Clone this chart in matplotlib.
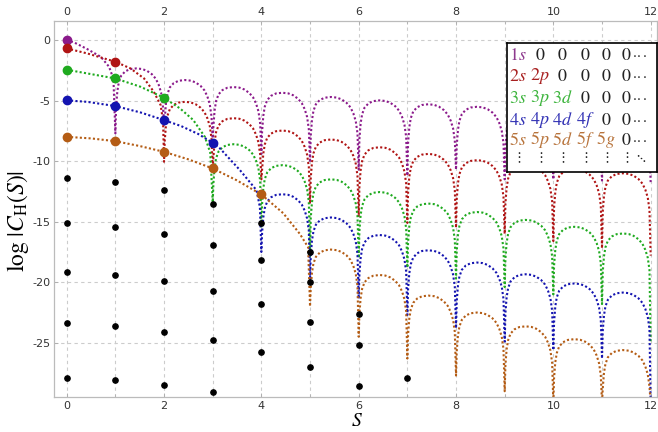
import numpy as np
import matplotlib.pyplot as plt

plt.rcParams['mathtext.fontset'] = 'stix'
plt.rcParams['axes.unicode_minus'] = False

line_colors = ['#8b1a8b', '#b01414', '#1faa1f', '#1414b0', '#b45c14']
label_colors = ['#8e3a8e', '#a82020', '#3cb43c', '#3232b4', '#b8743c']

# big dots: value at S = 0, 1, ... for each series
dots_1s = [0.0]
dots_2s = [-0.69, -1.79]
dots_3s = [-2.45, -3.17, -4.77]
dots_4s = [-4.98, -5.45, -6.61, -8.48]
dots_5s = [-7.99, -8.35, -9.23, -10.6, -12.75]

# start of every curve, before its first zero
lead_s_1s = [0, 0.15, 0.42, 0.7, 0.87, 0.96]
lead_y_1s = [0, -0.19, -0.74, -1.38, -2.2, -3.2]
lead_s_2s = [0, 0.42, 1, 1.31, 1.59, 1.79, 1.93, 1.98]
lead_y_2s = [-0.69, -1.1, -1.79, -2.34, -3.17, -4.27, -5.37, -6.7]
lead_s_3s = [0, 0.42, 1, 1.52, 2, 2.33, 2.6, 2.84, 2.95]
lead_y_3s = [-2.45, -2.75, -3.17, -3.86, -4.77, -5.65, -6.6, -8.0, -9.3]
lead_s_4s = [0, 0.42, 1, 1.52, 2, 2.35, 2.7, 3, 3.15, 3.56, 3.9, 3.97]
lead_y_4s = [-4.98, -5.1, -5.45, -5.98, -6.61, -7.1, -7.75, -8.48, -8.95, -10.74, -12.4, -13.8]
lead_s_5s = [0, 0.5, 1, 1.5, 2, 2.5, 3, 3.49, 4, 4.45, 4.79, 4.96]
lead_y_5s = [-7.99, -8.12, -8.35, -8.75, -9.23, -9.85, -10.6, -11.57, -12.75, -14.3, -16.0, -17.1]

# depth of the dips at the zeros (first zero ... S=12)
dips_1s = [-7.7, -7.0, -8.3, -9.4, -10.1, -10.7, -11.2, -10.7, -11.5, -11.5, -11.6, -11.8]
dips_2s = [-10.05, -10.6, -11.5, -13.5, -14.6, -15.1, -15.5, -16.0, -16.6, -17.2, -17.8]
dips_3s = [-13.4, -15.5, -17.9, -18.0, -18.8, -19.7, -20.4, -21.0, -21.8, -25.0]
dips_4s = [-17.5, -19.8, -21.35, -22.7, -23.8, -24.9, -25.6, -26.3, -30]
dips_5s = [-22.0, -24.5, -26.3, -27.7, -29.0, -30, -30, -30]

# tops of the arches between consecutive zeros
peaks_1s = [-2.34, -3.3, -3.88, -4.35, -4.7, -4.98, -5.3, -5.51, -5.75, -5.95, -6.15]
peaks_2s = [-5.1, -6.45, -7.47, -8.21, -8.85, -9.4, -9.92, -10.3, -10.65, -11.0]
peaks_3s = [-8.6, -10.33, -11.5, -12.55, -13.5, -14.2, -14.85, -15.42, -15.97]
peaks_4s = [-12.73, -14.65, -16.1, -17.36, -18.37, -19.34, -20.1, -20.85]
peaks_5s = [-17.3, -19.4, -21.1, -22.5, -23.64, -24.7, -25.6]

# arch shape: fraction between zeros, drop below arch top
arch_frac = [0.015, 0.04, 0.07, 0.12, 0.2, 0.3, 0.43, 0.55, 0.65, 0.75, 0.83, 0.89, 0.94, 0.975]
arch_drop = [3.2, 1.9, 1.15, 0.6, 0.25, 0.06, 0.0, 0.05, 0.2, 0.48, 0.85, 1.35, 2.0, 3.0]

black_s = [0, 0, 0, 0, 0, 1, 1, 1, 1, 1, 2, 2, 2, 2, 2, 3, 3, 3, 3, 3,
           4, 4, 4, 4, 5, 5, 5, 5, 6, 6, 6, 7]
black_y = [-11.35, -15.1, -19.15, -23.4, -27.9,
           -11.7, -15.4, -19.4, -23.65, -28.1,
           -12.4, -16.0, -19.9, -24.1, -28.5,
           -13.5, -16.9, -20.7, -24.8, -29.1,
           -15.1, -18.2, -21.8, -25.8,
           -17.5, -20.0, -23.25, -27.0,
           -22.6, -25.2, -28.6,
           -27.9]


def build_curve(lead_s, lead_y, dips, peaks):
    first_zero = 12 - len(peaks)
    s = list(lead_s) + [first_zero]
    y = list(lead_y) + [dips[0]]
    for i, top in enumerate(peaks):
        k = first_zero + i
        for f, d in zip(arch_frac, arch_drop):
            s.append(k + f)
            y.append(top - d)
        s.append(k + 1)
        y.append(dips[i + 1])
    return s, y


curves = [
    (lead_s_1s, lead_y_1s, dips_1s, peaks_1s, dots_1s),
    (lead_s_2s, lead_y_2s, dips_2s, peaks_2s, dots_2s),
    (lead_s_3s, lead_y_3s, dips_3s, peaks_3s, dots_3s),
    (lead_s_4s, lead_y_4s, dips_4s, peaks_4s, dots_4s),
    (lead_s_5s, lead_y_5s, dips_5s, peaks_5s, dots_5s),
]

fig = plt.figure(figsize=(6.58, 4.32), dpi=100)
ax = fig.add_axes([54.3 / 658, 1 - 397.3 / 432, (657 - 54.3) / 658, (397.3 - 20.7) / 432])

for (ls, ly, dp, pk, dt), c in zip(curves, line_colors):
    s, y = build_curve(ls, ly, dp, pk)
    ax.plot(s, y, color=c, lw=1.5, ls=(0, (1, 1.1)), zorder=2)

ax.plot(black_s, black_y, 'o', color='black', ms=3.8, zorder=3)
for (ls, ly, dp, pk, dt), c in zip(curves, line_colors):
    ax.plot(range(len(dt)), dt, 'o', color=c, ms=6, zorder=4)

ax.set_xlim(-0.255, 12.13)
ax.set_ylim(-29.5, 1.6)
ax.set_xticks(range(0, 13, 2))
ax.set_yticks([0, -5, -10, -15, -20, -25])
ax.set_xticks(range(0, 13), minor=True)
for x in range(13):
    ax.axvline(x, color='#cccccc', lw=0.8, ls=(0, (3, 3)), zorder=1)
for yv in [0, -5, -10, -15, -20, -25]:
    ax.axhline(yv, color='#cccccc', lw=0.8, ls=(0, (3, 3)), zorder=1)
ax.tick_params(top=True, labeltop=True, right=False, direction='in',
               length=3, width=0.6, color='#aaaaaa', labelsize=8, labelcolor='#333333', pad=3)
ax.tick_params(which='minor', top=True, direction='in', length=2, width=0.5, color='#aaaaaa')
for sp in ax.spines.values():
    sp.set_color('#bbbbbb')
    sp.set_linewidth(0.9)

fig.text(18 / 658, 1 - 221 / 432, r'$\log\,|C_{\mathrm{H}}(S)|$', rotation=90,
         ha='center', va='center', fontsize=17)
fig.text(357 / 658, 1 - 420 / 432, r'$S$', ha='center', va='center', fontsize=14)

# legend table
lg = fig.add_axes([507 / 658, 1 - 172 / 432, 150 / 658, 129 / 432])
lg.set_xlim(0, 150)
lg.set_ylim(129, 0)
lg.set_xticks([])
lg.set_yticks([])
lg.set_facecolor('white')
for sp in lg.spines.values():
    sp.set_color('black')
    sp.set_linewidth(1.2)

orbital_letters = ['s', 'p', 'd', 'f', 'g']
col_x = [11, 33, 55, 78, 99, 119]
row_y = [12, 33, 55, 77, 97]
for n in range(5):
    for j in range(6):
        if j <= n:
            txt = r'$%d%s$' % (n + 1, orbital_letters[j])
            col = label_colors[n]
        else:
            txt = r'$0$'
            col = '#222222'
        lg.text(col_x[j], row_y[n], txt, ha='center', va='center', fontsize=13, color=col)
    lg.text(125, row_y[n] - 1, r'$\cdot\!\cdot\!\cdot$', ha='left', va='center', fontsize=10, color='#222222')
for j in range(6):
    lg.text(col_x[j], 115, r'$\vdots$', ha='center', va='center', fontsize=10, color='#222222')
lg.text(133, 115, r'$\ddots$', ha='center', va='center', fontsize=10, color='#222222')

fig.savefig('out.png', dpi=100)
